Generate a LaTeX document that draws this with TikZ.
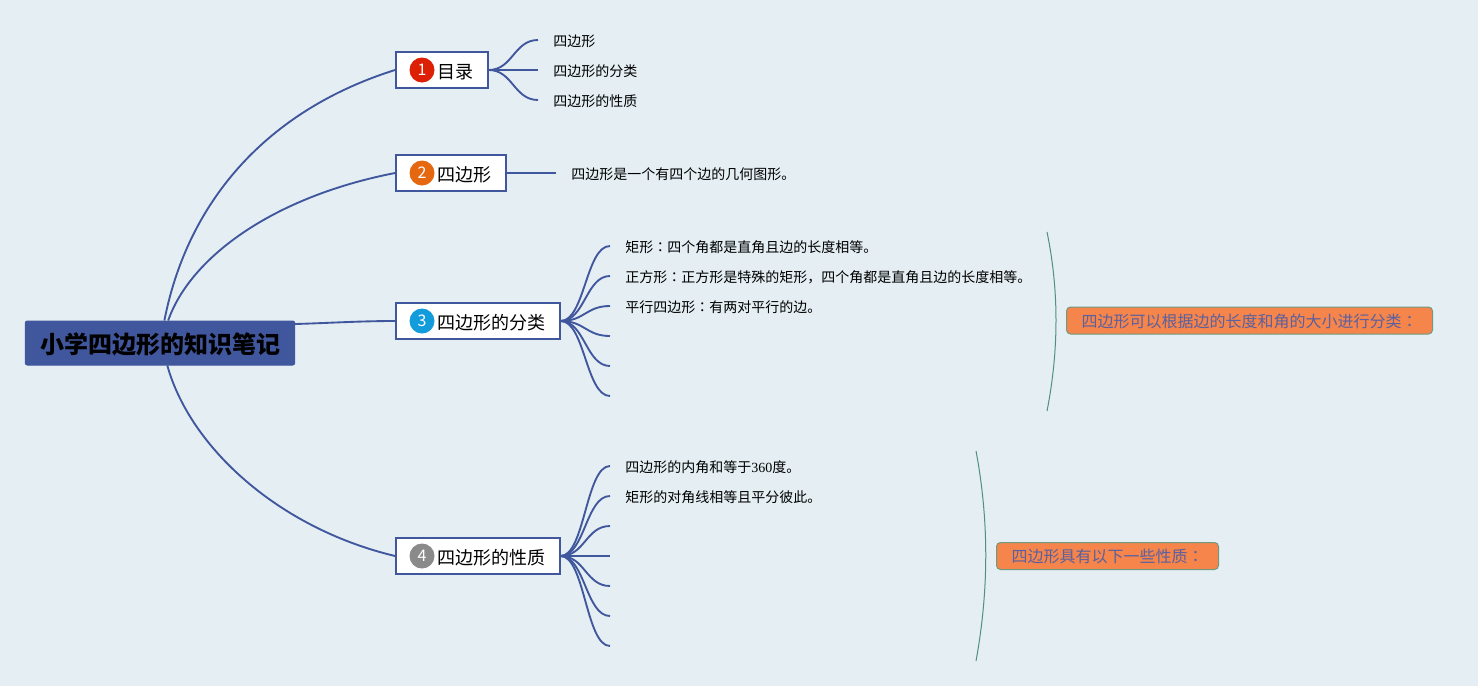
\documentclass[tikz,border=0pt]{standalone}
\usepackage{fontspec}
\setmainfont{Noto Sans CJK SC}
\newfontfamily\digitfont{Liberation Serif}
\newfontfamily\colonfont{Noto Sans CJK TC}
\definecolor{paper}{HTML}{E4EEF3}
\definecolor{mapblue}{HTML}{40569D}
\definecolor{notefill}{HTML}{F5854A}
\definecolor{noteline}{HTML}{6F9A80}
\definecolor{notetext}{HTML}{5A60A0}
\definecolor{curveline}{HTML}{4F9080}
\definecolor{numred}{HTML}{DC1F05}
\definecolor{numorange}{HTML}{E5670F}
\definecolor{numblue}{HTML}{129CDB}
\definecolor{numgray}{HTML}{8A8A8A}
\newcommand{\cn}{{\colonfont ：}}
\tikzset{
  rootbox/.style={draw=mapblue,fill=mapblue,line width=0.75pt,rounded corners=1.5pt,minimum width=202pt,minimum height=33pt,inner sep=0pt,text height=15.5pt,text depth=0.5pt,font=\fontsize{18pt}{22pt}\selectfont\bfseries},
  topicbox/.style={draw=mapblue,fill=white,line width=1.5pt,anchor=west,minimum height=27pt,inner xsep=10.75pt,inner ysep=0pt,text height=12.5pt,text depth=0.5pt,font=\fontsize{13.5pt}{16pt}\selectfont},
  badge/.style={circle,minimum size=18.75pt,inner sep=0pt,text=white,font=\fontsize{12pt}{14pt}\selectfont},
  leaf/.style={anchor=west,inner xsep=11.25pt,inner ysep=0pt,text height=9.5pt,text depth=0.5pt,font=\fontsize{10.5pt}{12pt}\selectfont},
  notebox/.style={draw=noteline,fill=notefill,line width=0.75pt,rounded corners=3pt,anchor=west,minimum height=20.25pt,inner xsep=11.25pt,inner ysep=0pt,text height=11pt,text depth=1pt,text=notetext,font=\fontsize{12pt}{14pt}\selectfont},
  mainline/.style={draw=mapblue,line width=1.4pt},
  branch/.style={draw=mapblue,line width=1.4pt,to path={.. controls +(24,0) and +(-24,0) .. (\tikztotarget)}},
  curveline/.style={draw=curveline,line width=0.75pt}
}
\begin{document}
\begin{tikzpicture}[x=0.75pt,y=0.75pt,yscale=-1,xscale=1]
\useasboundingbox (0,0) rectangle (1478,686);
\fill[paper] (0,0) rectangle (1478,686);

% Root
\node[rootbox] (root) at (160,343) {小学四边形的知识笔记};

% Topics
\node[topicbox] (toc) at (395,70) {\hspace{20.25pt}目录};
\node[topicbox] (quad) at (395,173) {\hspace{20.25pt}四边形};
\node[topicbox] (kinds) at (395,321) {\hspace{20.25pt}四边形的分类};
\node[topicbox] (props) at (395,556) {\hspace{20.25pt}四边形的性质};

% Badges
\node[badge,fill=numred] (numa) at (422,70) {1};
\node[badge,fill=numorange] (numb) at (422,173) {2};
\node[badge,fill=numblue] (numc) at (422,321) {3};
\node[badge,fill=numgray] (numd) at (422,556) {4};

% Leaves of the first topic
\node[leaf] (tocA) at (538,40) {四边形};
\node[leaf] (tocB) at (538,70) {四边形的分类};
\node[leaf] (tocC) at (538,100) {四边形的性质};

% Leaf of the second topic
\node[leaf] (quadA) at (556,173) {四边形是一个有四个边的几何图形。};

% Leaves of the third topic
\node[leaf] (kindsA) at (610,246) {矩形\cn 四个角都是直角且边的长度相等。};
\node[leaf] (kindsB) at (610,276) {正方形\cn 正方形是特殊的矩形，四个角都是直角且边的长度相等。};
\node[leaf] (kindsC) at (610,306) {平行四边形\cn 有两对平行的边。};
\coordinate (kindsD) at (610,336);
\coordinate (kindsE) at (610,366);
\coordinate (kindsF) at (610,396);

% Leaves of the fourth topic
\node[leaf] (propsA) at (610,466) {四边形的内角和等于{\digitfont 360}度。};
\node[leaf] (propsB) at (610,496) {矩形的对角线相等且平分彼此。};
\coordinate (propsC) at (610,526);
\coordinate (propsD) at (610,556);
\coordinate (propsE) at (610,586);
\coordinate (propsF) at (610,616);
\coordinate (propsG) at (610,646);

% Notes
\node[notebox] (noteA) at (1066,320.5) {四边形可以根据边的长度和角的大小进行分类\cn};
\node[notebox] (noteB) at (996,556) {四边形具有以下一些性质\cn};

% Root connectors
\draw[mainline] (root.79) .. controls (188,200) and (268,110) .. (toc.west);
\draw[mainline] (root.70) .. controls (190,258) and (272,197) .. (quad.west);
\draw[mainline] (root.8) .. controls (330,323) and (360,321) .. (kinds.west);
\draw[mainline] (root.288) .. controls (190,447) and (278,528) .. (props.west);

% Branches
\draw[branch] (toc.east) to (tocA.west);
\draw[branch] (toc.east) to (tocB.west);
\draw[branch] (toc.east) to (tocC.west);
\draw[branch] (quad.east) to (quadA.west);
\draw[branch] (kinds.east) to (kindsA.west);
\draw[branch] (kinds.east) to (kindsB.west);
\draw[branch] (kinds.east) to (kindsC.west);
\draw[branch] (kinds.east) to (kindsD);
\draw[branch] (kinds.east) to (kindsE);
\draw[branch] (kinds.east) to (kindsF);
\draw[branch] (props.east) to (propsA.west);
\draw[branch] (props.east) to (propsB.west);
\draw[branch] (props.east) to (propsC);
\draw[branch] (props.east) to (propsD);
\draw[branch] (props.east) to (propsE);
\draw[branch] (props.east) to (propsF);
\draw[branch] (props.east) to (propsG);

% Summary curves
\coordinate (arcAtop) at (1047,232);
\coordinate (arcAend) at (1047,411);
\coordinate (arcBtop) at (976,451);
\coordinate (arcBend) at (976,661);
\draw[curveline] (arcAtop) .. controls (1059,290) and (1059,350) .. (arcAend);
\draw[curveline] (arcBtop) .. controls (989,520) and (989,590) .. (arcBend);
\end{tikzpicture}
\end{document}
